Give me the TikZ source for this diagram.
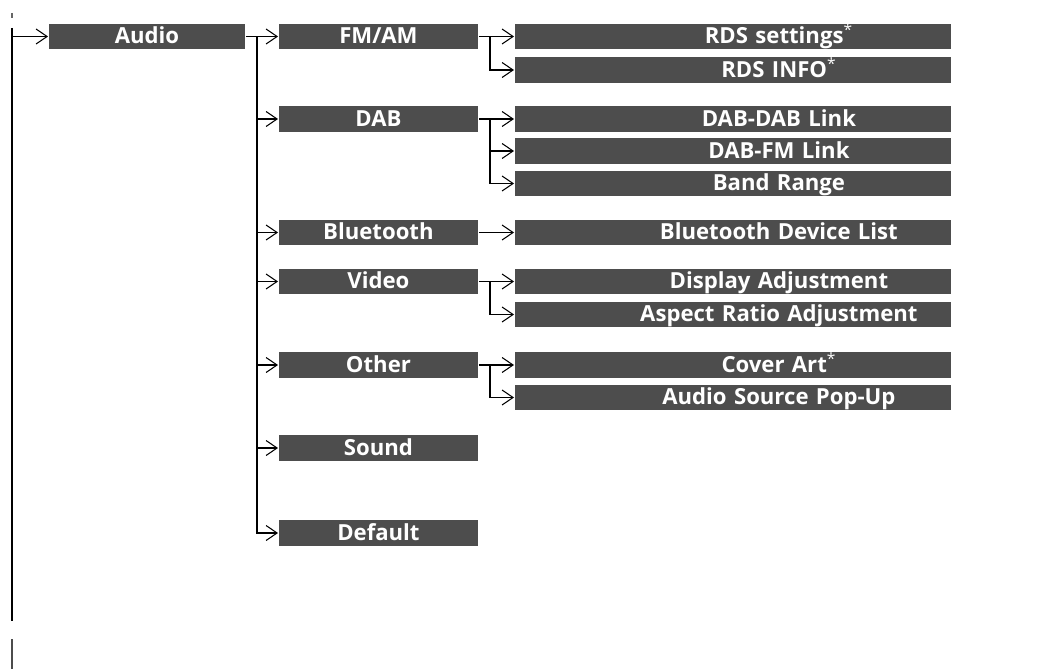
\documentclass[tikz,border=0pt]{standalone}
\usepackage{fontspec}
\setmainfont{Open Sans}
\usepackage{tikz}
\usetikzlibrary{arrows.meta,positioning}
\definecolor{boxG}{RGB}{77,77,77}
\newcommand{\menuoff}{\hspace*{1.84cm}}

\begin{document}
\begin{tikzpicture}[x=0.02cm, y=-0.02cm, line width=1.1pt,
  font=\fontsize{12.6pt}{14pt}\selectfont\bfseries,
  >={Straight Barb[length=2.2mm,width=3mm,line width=0.6pt]},
  b/.style={rectangle, fill=boxG, text=white, inner sep=0, anchor=west,
    minimum height=0.51cm, text height=0.8em, text depth=0pt},
  lone/.style={b, minimum width=3.92cm},
  ltwo/.style={b, minimum width=3.98cm},
  lthree/.style={b, minimum width=8.72cm, text width=8.72cm, align=center}]
  \useasboundingbox (0,0) rectangle (1038,669);
  % first level
  \node[lone] (audio) at (48,36.5) {Audio};
  % second level
  \node[ltwo] (fmam) at (278,36.5) {FM/AM};
  \node[ltwo] (dab) at (278,119) {DAB};
  \node[ltwo] (bt) at (278,232.5) {Bluetooth};
  \node[ltwo] (video) at (278,281.5) {Video};
  \node[ltwo] (other) at (278,365) {Other};
  \node[ltwo] (sound) at (278,448) {Sound};
  \node[ltwo] (dflt) at (278,533) {Default};
  % third level
  \node[lthree] (rdsset) at (514,36.5) {\menuoff RDS settings\textsuperscript{\mdseries *}};
  \node[lthree] (rdsinfo) at (514,70) {\menuoff RDS INFO\textsuperscript{\mdseries *}};
  \node[lthree] (dabdab) at (514,119) {\menuoff DAB-DAB Link};
  \node[lthree] (dabfm) at (514,151) {\menuoff DAB-FM Link};
  \node[lthree] (band) at (514,183.5) {\menuoff Band Range};
  \node[lthree] (btlist) at (514,232.5) {\menuoff Bluetooth Device List};
  \node[lthree] (disp) at (514,281.5) {\menuoff Display Adjustment};
  \node[lthree] (aspect) at (514,314.5) {\menuoff Aspect Ratio Adjustment};
  \node[lthree] (cover) at (514,365) {\menuoff Cover Art\textsuperscript{\mdseries *}};
  \node[lthree] (popup) at (514,397.5) {\menuoff Audio Source Pop-Up};
  % left rail
  \coordinate (top) at (12,28);
  \coordinate (bot) at (12,621);
  \coordinate (j0) at (12,36.5);
  \draw (top) -- (bot);
  \draw[->] (j0) -- (audio.west);
  \draw[black!60] (12,13) -- (12,18);
  \draw[black!70] (12,639) -- (12,669);
  % audio branches
  \coordinate (j1) at (257,36.5);
  \draw[->] (audio.east) -- (fmam.west);
  \draw[->] (j1) |- (dflt.west);
  \foreach \m in {dab,bt,video,other,sound}
    \draw[->] (j1 |- \m.west) -- (\m.west);
  % sub menus
  \draw[->] (fmam.east) -- (rdsset.west);
  \draw[->] (fmam.east -| 490,0) |- (rdsinfo.west);
  \draw[->] (dab.east) -- (dabdab.west);
  \foreach \m in {dabfm,band}
    \draw[->] (dab.east -| 490,0) |- (\m.west);
  \draw[->] (bt.east) -- (btlist.west);
  \draw[->] (video.east) -- (disp.west);
  \draw[->] (video.east -| 490,0) |- (aspect.west);
  \draw[->] (other.east) -- (cover.west);
  \draw[->] (other.east -| 490,0) |- (popup.west);
\end{tikzpicture}
\end{document}
